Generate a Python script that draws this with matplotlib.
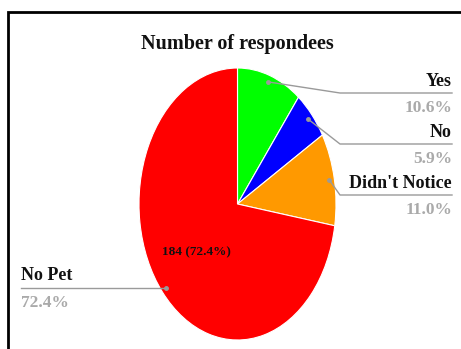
import numpy as np
import matplotlib.pyplot as plt
from matplotlib.patches import Rectangle

categories = ["Yes", "No", "Didn't Notice", "No Pet"]
counts = [27, 15, 28, 184]
percent_labels = ["10.6%", "5.9%", "11.0%", "72.4%"]
colors = ["#00ff00", "#0000ff", "#ff9900", "#ff0000"]

W, H = 461, 349
cx, cy = 237.5, 204      # pie centre, pixels from top-left
rx, ry = 98.5, 136       # pie half-width / half-height in pixels


def px(x, y):
    # pixel position (from top-left) -> data coords
    return (x - cx) / rx, (cy - y) / ry


plt.rcParams['font.family'] = ['Liberation Serif', 'DejaVu Serif']

fig = plt.figure(figsize=(W / 100, H / 100), dpi=100)
ax = fig.add_axes([0, 0, 1, 1])

wedges, _ = ax.pie(counts, colors=colors, startangle=90, counterclock=False,
                   radius=1, wedgeprops=dict(edgecolor='white', linewidth=0.8))
ax.set_aspect('auto')
ax.set_xlim(-cx / rx, (W - cx) / rx)
ax.set_ylim(-(H - cy) / ry, cy / ry)
ax.axis('off')

fig.text(cx / W, 1 - 44 / H, "Number of respondees", ha='center', va='center',
         fontsize=14.5, fontweight='bold', color='#111111')

# frame around the chart
fig.add_artist(Rectangle((8 / W, -0.1), 1.2, 1.1 - 12 / H, transform=fig.transFigure,
                         fill=False, edgecolor='black', linewidth=2, clip_on=False))

line_color = '#9a9a9a'
line_y_px = [93, 144, 195, None]
for i, w in enumerate(wedges):
    mid = np.deg2rad((w.theta1 + w.theta2) / 2)
    dx, dy = 0.95 * np.cos(mid), 0.95 * np.sin(mid)
    ax.plot(dx, dy, 'o', color=line_color, markersize=2.5)
    if line_y_px[i] is not None:
        ex, ey = px(340, line_y_px[i])
        endx, _ = px(452, 0)
        ax.plot([dx, ex, endx], [dy, ey, ey], color=line_color, linewidth=1)
        ha = 'right'
    else:
        endx, ey = px(21, 0)[0], dy
        ax.plot([dx, endx], [dy, dy], color=line_color, linewidth=1)
        ha = 'left'
        ax.text(0.55 * np.cos(mid), 0.55 * np.sin(mid),
                f"{counts[i]} ({percent_labels[i]})", ha='center', va='center',
                fontsize=9.5, fontweight='bold', color='#111111')
    ax.annotate(categories[i], (endx, ey), xytext=(0, 2.5), textcoords='offset points',
                ha=ha, va='bottom', fontsize=13, fontweight='bold', color='#111111')
    ax.annotate(percent_labels[i], (endx, ey), xytext=(0, -5), textcoords='offset points',
                ha=ha, va='top', fontsize=12.5, fontweight='bold', color='#aaaaaa')

fig.savefig('out.png', dpi=100)
